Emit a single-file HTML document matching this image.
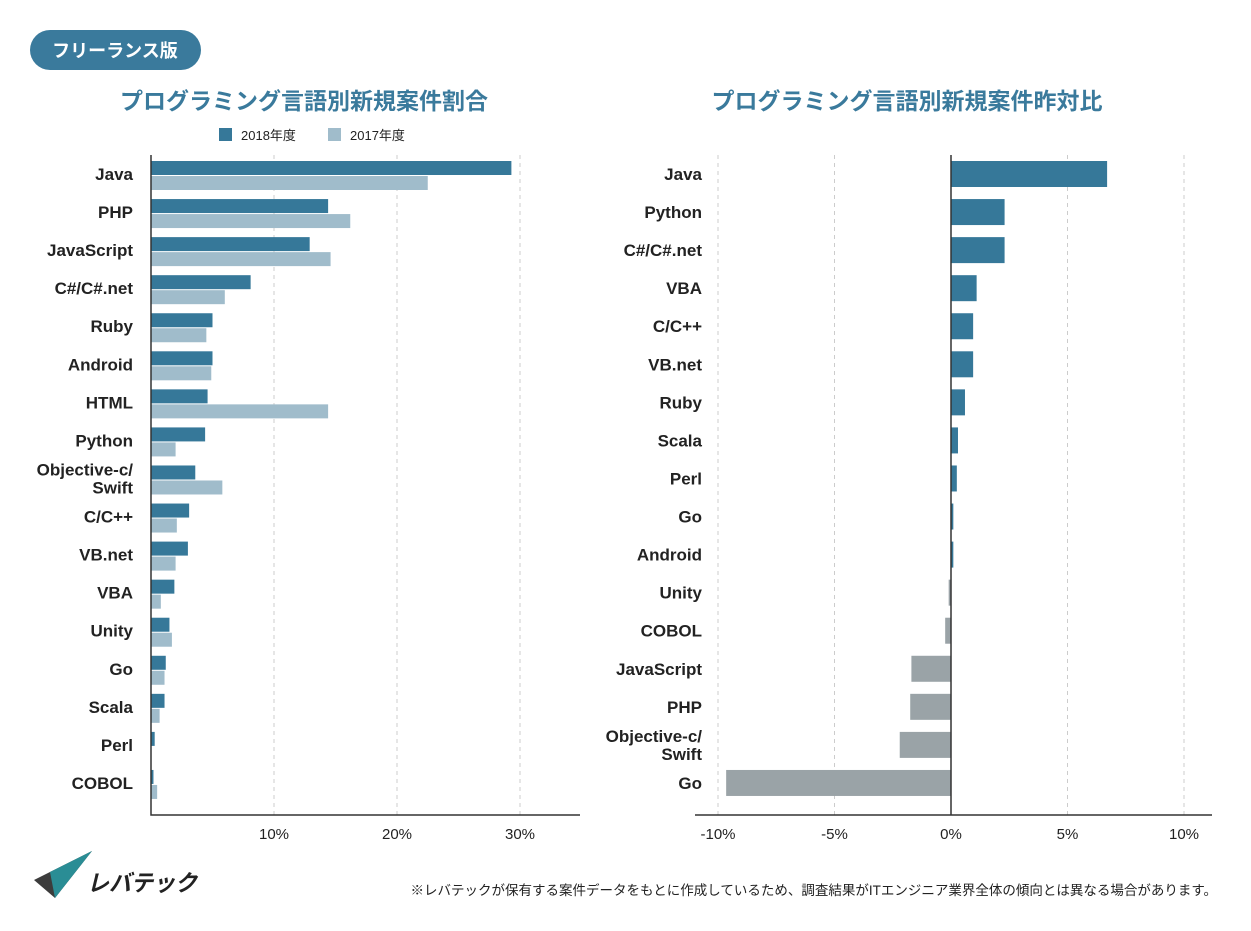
<!DOCTYPE html>
<html><head><meta charset="utf-8"><style>
html,body{margin:0;padding:0;background:#fff;}
svg{display:block;font-family:"Liberation Sans","Noto Sans CJK JP",sans-serif;}
</style></head><body>
<svg id="c" width="1251" height="931" viewBox="0 0 1251 931" xmlns="http://www.w3.org/2000/svg">
<g>
<rect x="30" y="30" width="171" height="40" rx="20" fill="#3a7a9c"/>
<text x="115" y="57" font-size="18" font-weight="bold" fill="#fff" text-anchor="middle">フリーランス版</text>
</g>
<text x="304" y="109" font-size="23" font-weight="bold" fill="#3a7a9c" text-anchor="middle">プログラミング言語別新規案件割合</text>
<text x="907" y="109" font-size="23" font-weight="bold" fill="#3a7a9c" text-anchor="middle">プログラミング言語別新規案件昨対比</text>
<g>
<rect x="219" y="128" width="13" height="13" fill="#367899"/>
<text x="241" y="140" font-size="13" fill="#222">2018年度</text>
<rect x="328" y="128" width="13" height="13" fill="#a0bccb"/>
<text x="350" y="140" font-size="13" fill="#222">2017年度</text>
</g>
<g id="left"></g>
<g id="right"></g>
<g>
<polygon points="34,880 92,851 55,898" fill="#3c3c3c"/>
<polygon points="34,880 92,851 50,872" fill="#cfcfcf"/>
<polygon points="50,872 92,851 55,898" fill="#2a8d95"/>
<text x="87" y="891" font-size="23" font-weight="bold" font-style="italic" fill="#222" textLength="110" lengthAdjust="spacingAndGlyphs">レバテック</text>
</g>
<text x="1217" y="895" font-size="13.5" fill="#222" text-anchor="end">※レバテックが保有する案件データをもとに作成しているため、調査結果がITエンジニア業界全体の傾向とは異なる場合があります。</text>
</svg>
<script>
const leftCats=["Java","PHP","JavaScript","C#/C#.net","Ruby","Android","HTML","Python","Objective-c/\nSwift","C/C++","VB.net","VBA","Unity","Go","Scala","Perl","COBOL"];
const left2018=[29.3,14.4,12.9,8.1,5.0,5.0,4.6,4.4,3.6,3.1,3.0,1.9,1.5,1.2,1.1,0.3,0.2];
const left2017=[22.5,16.2,14.6,6.0,4.5,4.9,14.4,2.0,5.8,2.1,2.0,0.8,1.7,1.1,0.7,0.0,0.5];
const leftTicks=[10,20,30];
const rightCats=["Java","Python","C#/C#.net","VBA","C/C++","VB.net","Ruby","Scala","Perl","Go","Android","Unity","COBOL","JavaScript","PHP","Objective-c/\nSwift","Go"];
const rightVals=[6.7,2.3,2.3,1.1,0.95,0.95,0.6,0.3,0.25,0.1,0.1,-0.1,-0.25,-1.7,-1.75,-2.2,-9.65];
const rightTicks=[-10,-5,0,5,10];
const NS="http://www.w3.org/2000/svg";
function mk(p,tag,a){const e=document.createElementNS(NS,tag);for(const k in a)e.setAttribute(k,a[k]);p.appendChild(e);return e;}
const rowY=i=>174+i*38.06;
const lx=v=>151+v*12.3;
const rx=v=>951+v*23.3;
function label(g,x,y,t){
  const lines=t.split("\n");
  lines.forEach((s,j)=>{
    const e=mk(g,"text",{x:x,y:y+6+(j-(lines.length-1)/2)*18,"font-size":17,"font-weight":"bold",fill:"#222","text-anchor":"end"});
    e.textContent=s;
    
    
  });
}
const L=document.getElementById("left");
leftTicks.forEach(t=>{
  const l=mk(L,"line",{x1:lx(t),x2:lx(t),y1:155,y2:815,stroke:"#ccc","stroke-dasharray":"4,4"});
  
  
  const tx=mk(L,"text",{x:lx(t),y:839,"font-size":15,fill:"#222","text-anchor":"middle"});
  tx.textContent=t+"%";
  
  
});
leftCats.forEach((c,i)=>{
  const y=rowY(i);
  label(L,133,y,c);
  const b1=mk(L,"rect",{x:lx(0),y:y-13,width:lx(left2018[i])-lx(0),height:14,fill:"#367899"});
  
  
  const b2=mk(L,"rect",{x:lx(0),y:y+2,width:lx(left2017[i])-lx(0),height:14,fill:"#a0bccb"});
  
  
});
const la=mk(L,"path",{d:"M151 155 V815 H580",stroke:"#333","stroke-width":1.5,fill:"none"});


const R=document.getElementById("right");
rightTicks.forEach(t=>{
  if(t!==0){
    const l=mk(R,"line",{x1:rx(t),x2:rx(t),y1:155,y2:815,stroke:"#ccc","stroke-dasharray":"4,4"});
    
    
  }
  const tx=mk(R,"text",{x:rx(t),y:839,"font-size":15,fill:"#222","text-anchor":"middle"});
  tx.textContent=t+"%";
  
  
});
rightCats.forEach((c,i)=>{
  const y=rowY(i);
  label(R,702,y,c);
  const v=rightVals[i];
  const x0=Math.min(rx(0),rx(v)),w=Math.abs(rx(v)-rx(0));
  const b=mk(R,"rect",{x:x0,y:y-13,width:w,height:26,fill:v>=0?"#367899":"#9aa3a7"});
  
  
});
const ra=mk(R,"path",{d:"M695 815 H1212 M951 155 V815",stroke:"#333","stroke-width":1.5,fill:"none"});


</script>
</body></html>
